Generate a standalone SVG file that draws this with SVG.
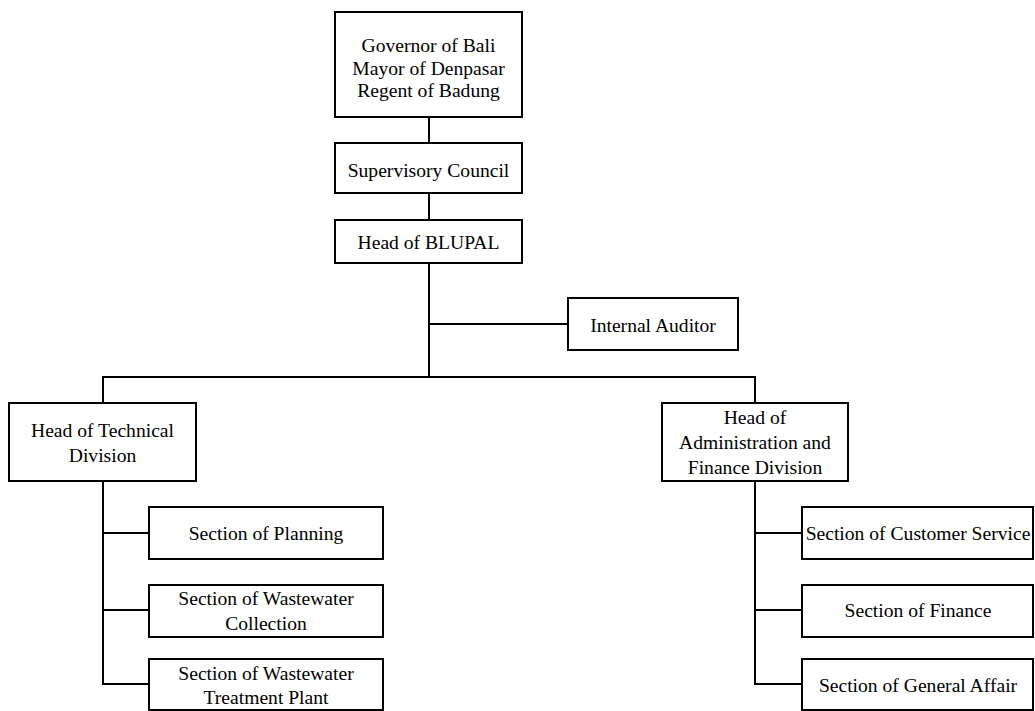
<svg xmlns="http://www.w3.org/2000/svg" width="1035" height="711" viewBox="0 0 1035 711">
<style>
.box{fill:#fff;stroke:#000;stroke-width:2}
.ln{fill:none;stroke:#000;stroke-width:2}
text{font-family:"Liberation Serif","Times New Roman",serif;font-size:19.6px;fill:#000;text-anchor:middle}
</style>
<rect width="1035" height="711" fill="#fff"/>
<g id="connectors">
<line class="ln" x1="429" y1="117" x2="429" y2="143"/>
<line class="ln" x1="429" y1="193" x2="429" y2="220"/>
<line class="ln" x1="429" y1="263" x2="429" y2="377"/>
<line class="ln" x1="429" y1="324" x2="568" y2="324"/>
<polyline class="ln" points="103,403 103,377 755,377 755,403"/>
<polyline class="ln" points="103,481 103,684 149,684"/>
<line class="ln" x1="103" y1="533" x2="149" y2="533"/>
<line class="ln" x1="103" y1="610" x2="149" y2="610"/>
<polyline class="ln" points="755,481 755,684 802,684"/>
<line class="ln" x1="755" y1="533" x2="802" y2="533"/>
<line class="ln" x1="755" y1="610" x2="802" y2="610"/>
</g>
<g id="governor"><rect class="box" x="335" y="12" width="187" height="105"/>
<text x="428.5" y="52">Governor of Bali</text><text x="428.5" y="74.5">Mayor of Denpasar</text><text x="428.5" y="97">Regent of Badung</text></g>
<g id="supervisory"><rect class="box" x="335" y="143" width="187" height="50"/><text x="428.5" y="176.5">Supervisory Council</text></g>
<g id="head"><rect class="box" x="335" y="220" width="187" height="43"/><text x="428.5" y="248.5">Head of BLUPAL</text></g>
<g id="auditor"><rect class="box" x="568" y="298" width="170" height="52"/><text x="653" y="331.5">Internal Auditor</text></g>
<g id="technical"><rect class="box" x="9" y="403" width="187" height="78"/><text x="102.5" y="436.5">Head of Technical</text><text x="102.5" y="461.5">Division</text></g>
<g id="admin"><rect class="box" x="662" y="403" width="186" height="78"/><text x="755" y="423.5">Head of</text><text x="755" y="448.5">Administration and</text><text x="755" y="473.5">Finance Division</text></g>
<g id="planning"><rect class="box" x="149" y="507" width="234" height="52"/><text x="266" y="539.5">Section of Planning</text></g>
<g id="collection"><rect class="box" x="149" y="585" width="234" height="52"/><text x="266" y="604.5">Section of Wastewater</text><text x="266" y="629.5">Collection</text></g>
<g id="treatment"><rect class="box" x="149" y="659" width="234" height="51"/><text x="266" y="679.5">Section of Wastewater</text><text x="266" y="703.5">Treatment Plant</text></g>
<g id="customer"><rect class="box" x="802" y="507" width="231" height="52"/><text x="918" y="539.5">Section of Customer Service</text></g>
<g id="finance"><rect class="box" x="802" y="585" width="231" height="52"/><text x="918" y="616.5">Section of Finance</text></g>
<g id="general"><rect class="box" x="802" y="659" width="231" height="51"/><text x="918" y="691.5">Section of General Affair</text></g>
</svg>
